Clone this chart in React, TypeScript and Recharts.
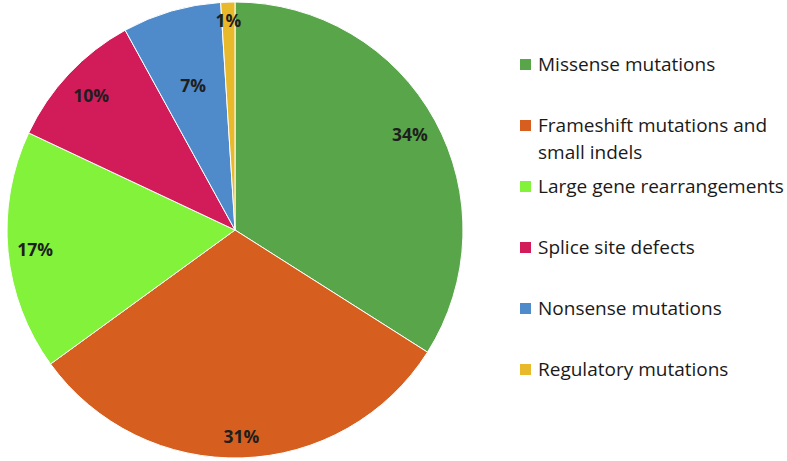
import { PieChart, Pie, Cell, Legend } from "recharts";

const categories = [
  "Missense mutations",
  "Frameshift mutations and small indels",
  "Large gene rearrangements",
  "Splice site defects",
  "Nonsense mutations",
  "Regulatory mutations",
];
const shares = [34, 31, 17, 10, 7, 1];
const colors = ["#59a64a", "#d65f1f", "#82f23a", "#d11c59", "#4f8bca", "#e8b92b"];

// label distance from centre, as a fraction of the outer radius
const labelRadius = [0.875, 0.905, 0.88, 0.865, 0.66, 0.92];

const data = categories.map((name, i) => ({ name, value: shares[i] }));

const RAD = Math.PI / 180;

function renderLabel(props: any) {
  const { cx, cy, midAngle, outerRadius, index, value } = props;
  const r = outerRadius * labelRadius[index];
  const x = cx + r * Math.cos(-midAngle * RAD);
  const y = cy + r * Math.sin(-midAngle * RAD);
  return (
    <text
      x={x}
      y={y}
      fill="#1e1e1e"
      fontSize={17.5}
      fontWeight={700}
      fontFamily="'Open Sans', sans-serif"
      textAnchor="middle"
      dominantBaseline="central"
    >
      {`${value}%`}
    </text>
  );
}

function renderLegend() {
  return (
    <div style={{ fontFamily: "'Open Sans', sans-serif", fontSize: 19, color: "#1a1a1a" }}>
      {data.map((d, i) => (
        <div key={d.name} style={{ height: 61, display: "flex", alignItems: "flex-start" }}>
          <div
            style={{
              width: 11,
              height: 11,
              background: colors[i],
              marginTop: 8,
              marginRight: 7,
              flexShrink: 0,
            }}
          />
          <div style={{ lineHeight: "27px", width: 250, whiteSpace: "normal" }}>{d.name}</div>
        </div>
      ))}
    </div>
  );
}

export default function App() {
  return (
    <div style={{ position: "absolute", left: 0, top: 0, width: 787, height: 461, background: "#fff" }}>
      <PieChart width={787} height={461} margin={{ top: 0, right: 0, bottom: 0, left: 0 }}>
        <Pie
          data={data}
          dataKey="value"
          nameKey="name"
          cx={235}
          cy={230}
          outerRadius={228}
          startAngle={90}
          endAngle={-270}
          stroke="#ffffff"
          strokeWidth={1}
          label={renderLabel}
          labelLine={false}
          isAnimationActive={false}
        >
          {data.map((d, i) => (
            <Cell key={d.name} fill={colors[i]} />
          ))}
        </Pie>
        <Legend
          layout="vertical"
          align="right"
          verticalAlign="top"
          content={renderLegend}
          wrapperStyle={{ left: 520, top: 51, width: 267 }}
        />
      </PieChart>
    </div>
  );
}
